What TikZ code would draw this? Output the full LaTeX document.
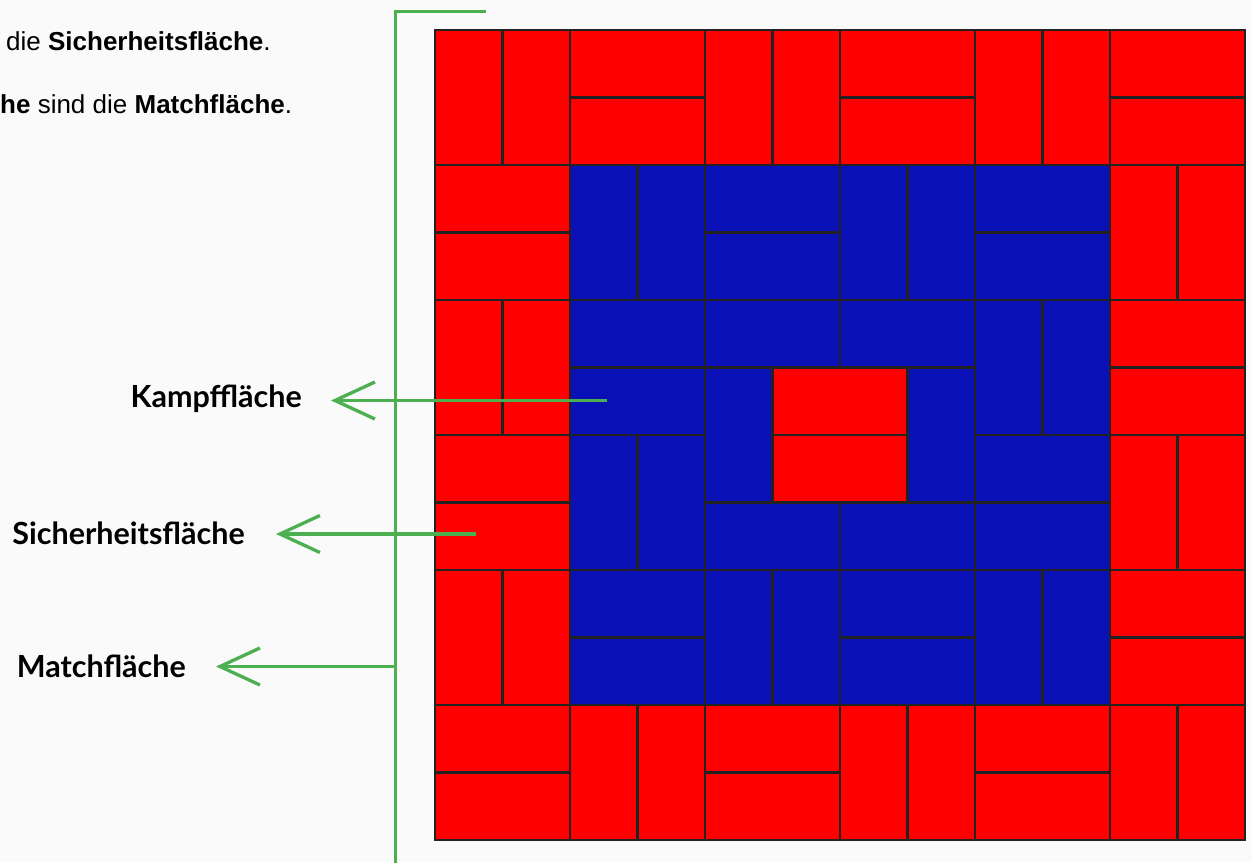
\documentclass[tikz,border=0pt]{standalone}
\usepackage{fontspec}
\setmainfont{Liberation Sans}
\newfontfamily\latofont{Lato}
\usetikzlibrary{arrows.meta}
\definecolor{tred}{HTML}{FF0000}
\definecolor{tblue}{HTML}{0810B6}
\definecolor{tline}{HTML}{222222}
\definecolor{tgreen}{HTML}{4CAF50}
\definecolor{bgc}{HTML}{FAFAFA}
\tikzset{
  tile/.style={draw=tline, line width=2.8pt},
  redtile/.style={tile, fill=tred},
  bluetile/.style={tile, fill=tblue},
  gline/.style={draw=tgreen, line width=2.7pt},
  garrow/.style={draw=tgreen, line width=3.3pt, -{Straight Barb[length=40pt,width=37pt,line width=3.3pt]}},
  lbl/.style={font=\latofont\bfseries\fontsize{30.5}{36}\selectfont, text=black, inner ysep=0pt, inner xsep=0pt},
  toptext/.style={font=\fontsize{26}{31}\selectfont, text=black, inner sep=0pt, anchor=base west}
}
\begin{document}
\begin{tikzpicture}[x=1pt,y=-1pt]
\useasboundingbox (0,0) rectangle (1252,862);
\fill[bgc] (0,0) rectangle (1252,862);
\clip (0,0) rectangle (1252,862);
% top text (cut off at the left edge)
\node[toptext] (t1) at (6,50) {die \textbf{Sicherheitsfläche}.};
\node[toptext] (t2) at (0,113) {\textbf{he} sind die \textbf{Matchfläche}.};
% tiles
\foreach \c/\r/\w/\h in {0/0/1/2,1/0/1/2,2/0/2/1,2/1/2/1,4/0/1/2,5/0/1/2,6/0/2/1,6/1/2/1,8/0/1/2,9/0/1/2,10/0/2/1,10/1/2/1,
  0/2/2/1,0/3/2/1,0/4/1/2,1/4/1/2,0/6/2/1,0/7/2/1,0/8/1/2,1/8/1/2,
  0/10/2/1,0/11/2/1,2/10/1/2,3/10/1/2,4/10/2/1,4/11/2/1,6/10/1/2,7/10/1/2,8/10/2/1,8/11/2/1,10/10/1/2,11/10/1/2,
  10/2/1/2,11/2/1/2,10/4/2/1,10/5/2/1,10/6/1/2,11/6/1/2,10/8/2/1,10/9/2/1,
  5/5/2/1,5/6/2/1}
  \draw[redtile] (435+67.5*\c,30+67.5*\r) rectangle ++(67.5*\w,67.5*\h);
\foreach \c/\r/\w/\h in {2/2/1/2,3/2/1/2,4/2/2/1,4/3/2/1,6/2/1/2,7/2/1/2,8/2/2/1,8/3/2/1,
  2/4/2/1,4/4/2/1,6/4/2/1,8/4/1/2,9/4/1/2,
  2/5/2/1,4/5/1/2,7/5/1/2,
  2/6/1/2,3/6/1/2,8/6/2/1,
  4/7/2/1,6/7/2/1,8/7/2/1,
  2/8/2/1,2/9/2/1,4/8/1/2,5/8/1/2,6/8/2/1,6/9/2/1,8/8/1/2,9/8/1/2}
  \draw[bluetile] (435+67.5*\c,30+67.5*\r) rectangle ++(67.5*\w,67.5*\h);
\draw[tline, line width=2.8pt] (435,30) rectangle (1245,840);
% green bracket
\coordinate (brTop) at (486,11.5);
\coordinate (brCorner) at (395.5,11.5);
\coordinate (brBottom) at (395.5,875);
\coordinate (matchpt) at (395.5,666.5);
\draw[gline] (brTop) -- (brCorner) -- (brBottom);
% labels
\node[lbl, anchor=east, inner xsep=29pt] (kampf) at (331,399) {Kampffläche};
\node[lbl, anchor=east, inner xsep=31pt] (sicher) at (276,533) {Sicherheitsfläche};
\node[lbl, anchor=east, inner xsep=30pt] (match) at (216,666) {Matchfläche};
\coordinate (kampfpt) at (607,400.5);
\coordinate (sicherpt) at (476,534);
% arrows
\draw[garrow] (kampfpt) -- (kampf.east |- kampfpt);
\draw[garrow] (sicherpt) -- (sicher.east |- sicherpt);
\draw[garrow] (matchpt) -- (match.east |- matchpt);
\end{tikzpicture}
\end{document}
